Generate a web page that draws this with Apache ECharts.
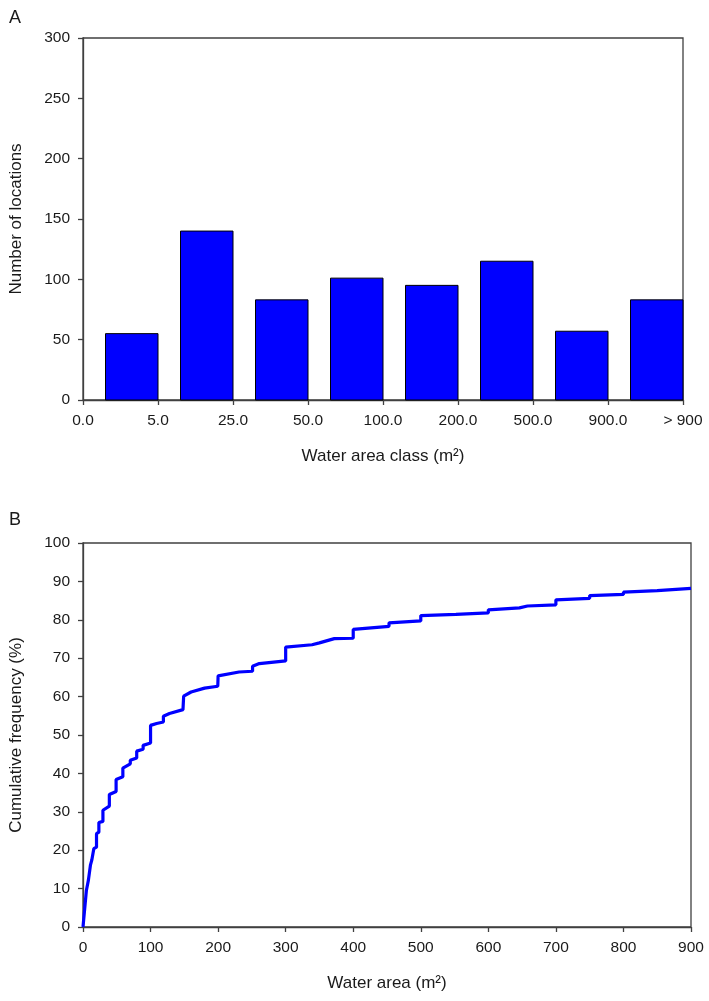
<!DOCTYPE html>
<html>
<head>
<meta charset="utf-8">
<script src="https://cdn.jsdelivr.net/npm/echarts@6/dist/echarts.min.js"></script>
<style>
html,body{margin:0;padding:0;background:#fff;}
#c{width:709px;height:1001px;}
</style>
</head>
<body>
<div id="c"></div>
<script>
// ---- Data ----
const classTickLabels = ['0.0', '5.0', '25.0', '50.0', '100.0', '200.0', '500.0', '900.0', '> 900'];
const classCounts = [55, 140, 83, 101, 95, 115, 57, 83];
const countTicks = [0, 50, 100, 150, 200, 250, 300];

// cumulative frequency curve: [water area (m2), cumulative %]
const cumArea = [0, 5, 8, 11, 13, 16, 20, 20, 23.5, 23.5, 29.5, 29.5, 39, 39, 49, 49, 59, 59, 70, 70,
  79.5, 79.5, 89, 89, 100, 100, 109, 119, 119, 128, 148, 149, 160, 180, 199.5, 200, 231, 251, 251, 261,
  300, 300, 339, 350, 352, 372, 400, 400, 453, 453, 500, 500, 552, 600, 600, 646, 658, 700, 700,
  750, 750, 800, 800, 850, 900];
const cumFreq = [0, 9.5, 12.2, 16.1, 17.4, 20.4, 20.8, 24.3, 24.7, 27.2, 27.5, 30.4, 31.5, 34.5, 35.3, 38.4, 39.1, 41.4, 42.5, 43.4,
  44, 45.8, 46.3, 47.3, 47.9, 52.5, 53, 53.4, 54.9, 55.6, 56.6, 60.1, 61.2, 62.2, 62.7, 65.4, 66.4, 66.6, 67.9, 68.6,
  69.3, 72.9, 73.5, 74, 74.5, 75.1, 75.2, 77.5, 78.3, 79.2, 79.7, 81.1, 81.4, 81.8, 82.6, 83.1, 83.6, 83.9, 85.2,
  85.6, 86.3, 86.6, 87.2, 87.6, 88.2];

// ---- Style ----
const AXIS = '#404040';
const TEXT = '#1a1a1a';
const FONT = 'Liberation Sans, Arial, sans-serif';
const BAR_START = 0.3; // bar occupies right part of each class interval

const chart = echarts.init(document.getElementById('c'), null, {renderer: 'canvas'});

const axisCommon = {
  axisLine: {show: true, lineStyle: {color: AXIS, width: 1.3}},
  axisTick: {show: true, inside: false, length: 5, lineStyle: {color: AXIS, width: 1.3}},
  splitLine: {show: false},
  nameTextStyle: {color: TEXT, fontFamily: FONT, fontSize: 17},
};
const labelCommon = {color: TEXT, fontFamily: FONT, fontSize: 15.5};

const option = {
  animation: false,
  backgroundColor: '#fff',
  title: [
    {text: 'A', left: 4, top: 4, textStyle: {fontFamily: FONT, fontSize: 18, fontWeight: 'normal', color: TEXT}},
    {text: 'B', left: 4, top: 506, textStyle: {fontFamily: FONT, fontSize: 18, fontWeight: 'normal', color: TEXT}}
  ],
  grid: [
    {left: 78, top: 38, width: 605, height: 362, show: true, borderColor: AXIS, borderWidth: 1.3, backgroundColor: 'transparent'},
    {left: 79, top: 543, width: 612, height: 384, show: true, borderColor: AXIS, borderWidth: 1.3, backgroundColor: 'transparent'}
  ],
  xAxis: [
    Object.assign({}, axisCommon, {
      type: 'value', gridIndex: 0, min: 0, max: classTickLabels.length - 1, interval: 1,
      name: 'Water area class (m²)', nameLocation: 'middle', nameGap: 48,
      axisLabel: Object.assign({}, labelCommon, {margin: 13, formatter: v => classTickLabels[v]})
    }),
    Object.assign({}, axisCommon, {
      type: 'value', gridIndex: 1, min: 0, max: 900, interval: 100,
      name: 'Water area (m²)', nameLocation: 'middle', nameGap: 48,
      axisLabel: Object.assign({}, labelCommon, {margin: 13})
    })
  ],
  yAxis: [
    Object.assign({}, axisCommon, {
      type: 'value', gridIndex: 0, min: countTicks[0], max: countTicks[countTicks.length - 1], interval: countTicks[1] - countTicks[0],
      name: 'Number of locations', nameLocation: 'middle', nameGap: 58, nameRotate: 90,
      axisLabel: Object.assign({}, labelCommon, {margin: 13})
    }),
    Object.assign({}, axisCommon, {
      type: 'value', gridIndex: 1, min: 0, max: 100, interval: 10,
      name: 'Cumulative frequency (%)', nameLocation: 'middle', nameGap: 58, nameRotate: 90,
      axisLabel: Object.assign({}, labelCommon, {margin: 13})
    })
  ],
  series: [
    {
      type: 'custom', xAxisIndex: 0, yAxisIndex: 0,
      data: classCounts.map((v, i) => [i, v]),
      renderItem: function (params, api) {
        const i = api.value(0), v = api.value(1);
        const p0 = api.coord([i + BAR_START, v]);
        const p1 = api.coord([i + 1, 0]);
        return {
          type: 'rect',
          shape: {x: p0[0], y: p0[1], width: p1[0] - p0[0], height: p1[1] - p0[1]},
          style: {fill: '#0000ff', stroke: '#000', lineWidth: 1}
        };
      },
      z: 1
    },
    {
      type: 'line', xAxisIndex: 1, yAxisIndex: 1,
      data: cumArea.map((x, i) => [x, cumFreq[i]]),
      showSymbol: false, symbol: 'none',
      lineStyle: {color: '#0000ff', width: 3.2},
      z: 3
    }
  ]
};
chart.setOption(option);
</script>
</body>
</html>
